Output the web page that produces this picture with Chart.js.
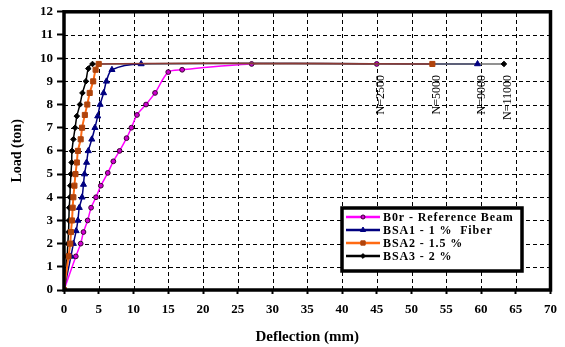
<!DOCTYPE html>
<html lang="en">
<head>
    <meta charset="UTF-8">
    <title>Load - Deflection</title>
    <script src="https://cdn.jsdelivr.net/npm/chart.js"></script>
    <style>
        html, body { margin: 0; padding: 0; background: #fff; }
        .chart-container { width: 565px; height: 347px; }
    </style>
</head>
<body>
    <div class="chart-container">
        <canvas id="myChart"></canvas>
    </div>

    <script>
        // Deflection (mm) / Load (ton)
        const b0rX = [0, 1.7, 2.4, 2.8, 3.4, 3.9, 4.6, 5.3, 6.3, 7.1, 8.0, 9.0, 9.7, 10.5, 11.8, 13.1, 15.0, 17.0, 27.0, 45.0];
        const b0rY = [0, 1.45, 2.0, 2.5, 3.0, 3.55, 4.0, 4.5, 5.05, 5.55, 6.0, 6.55, 7.0, 7.55, 8.0, 8.5, 9.4, 9.5, 9.75, 9.75];

        const bsa1X = [0, 1.0, 1.35, 1.75, 2.0, 2.2, 2.6, 2.8, 2.95, 3.25, 3.5, 4.0, 4.45, 4.85, 5.2, 5.7, 6.1, 6.9, 11.1, 59.5];
        const bsa1Y = [0, 1.45, 2.0, 2.55, 3.0, 3.55, 4.0, 4.55, 5.0, 5.5, 6.0, 6.5, 7.0, 7.5, 8.0, 8.5, 9.0, 9.5, 9.75, 9.75];

        const bsa2X = [0, 0.65, 0.9, 1.0, 1.15, 1.25, 1.35, 1.5, 1.65, 1.85, 2.0, 2.4, 2.6, 3.0, 3.35, 3.7, 4.2, 4.55, 5.0, 53.0];
        const bsa2Y = [0, 1.45, 2.0, 2.5, 3.0, 3.55, 4.0, 4.5, 5.0, 5.5, 6.0, 6.5, 7.0, 7.55, 8.0, 8.5, 9.0, 9.5, 9.75, 9.75];

        const bsa3X = [0, 0.45, 0.55, 0.65, 0.7, 0.75, 0.85, 0.9, 1.0, 1.1, 1.15, 1.35, 1.6, 1.85, 2.3, 2.65, 3.15, 3.5, 4.1, 63.3];
        const bsa3Y = [0, 1.45, 2.0, 2.5, 3.0, 3.55, 4.0, 4.5, 5.0, 5.5, 6.0, 6.5, 7.0, 7.5, 8.0, 8.5, 9.0, 9.55, 9.75, 9.75];

        const seriesLabels = ['B0r - Reference Beam', 'BSA1 - 1 %  Fiber', 'BSA2 - 1.5 %', 'BSA3 - 2 %'];
        // number of cycles written at the end of each curve
        const cycleLabels = ['N=2500', 'N=9000', 'N=5000', 'N=11000'];

        const toPoints = (xs, ys) => xs.map((x, i) => ({ x: x, y: ys[i] }));

        // darker colour for the flat part at the top, where the lines overlap
        const isFlat = ctx => ctx.p0.parsed.y > 9.7 && ctx.p1.parsed.y > 9.7;
        const flatColor = (normal, flat) => ctx => isFlat(ctx) ? flat : normal;

        const serif = 'Liberation Serif, Times New Roman, serif';

        // dashed grid drawn from the scale ticks
        const dashedGrid = {
            id: 'dashedGrid',
            beforeDatasetsDraw(chart) {
                const { ctx, chartArea: a, scales: { x, y } } = chart;
                ctx.save();
                ctx.strokeStyle = '#000';
                ctx.lineWidth = 1;
                ctx.setLineDash([4, 3]);
                x.ticks.forEach(t => {
                    const px = Math.round(x.getPixelForValue(t.value)) + 0.5;
                    ctx.beginPath();
                    ctx.moveTo(px, a.bottom);
                    ctx.lineTo(px, a.top);
                    ctx.stroke();
                });
                y.ticks.forEach(t => {
                    const py = Math.round(y.getPixelForValue(t.value)) + 0.5;
                    ctx.beginPath();
                    ctx.moveTo(a.left, py);
                    ctx.lineTo(a.right, py);
                    ctx.stroke();
                });
                ctx.restore();
            }
        };

        const frameAndLabels = {
            id: 'frameAndLabels',
            afterDatasetsDraw(chart) {
                const { ctx, chartArea: a, scales: { x, y } } = chart;
                ctx.save();
                ctx.setLineDash([]);
                // thick frame round the plot
                ctx.strokeStyle = '#000';
                ctx.lineWidth = 3.5;
                ctx.strokeRect(a.left, a.top, a.right - a.left, a.bottom - a.top);

                // N= labels, vertical, under the end of each curve
                ctx.fillStyle = '#000';
                ctx.font = '12px ' + serif;
                ctx.textAlign = 'right';
                ctx.textBaseline = 'middle';
                chart.data.datasets.forEach((ds, i) => {
                    const last = ds.data[ds.data.length - 1];
                    const px = x.getPixelForValue(last.x) + 4;
                    const py = y.getPixelForValue(last.y) + 11;
                    ctx.save();
                    ctx.translate(px, py);
                    ctx.rotate(-Math.PI / 2);
                    ctx.fillText(cycleLabels[i], 0, 0);
                    ctx.restore();
                });

                // legend box inside the plot
                const bx = 342, by = 208, bw = 180, bh = 63;
                ctx.fillStyle = '#fff';
                ctx.fillRect(bx, by, bw, bh);
                ctx.lineWidth = 3.5;
                ctx.strokeStyle = '#000';
                ctx.strokeRect(bx, by, bw, bh);
                ctx.font = 'bold 12px ' + serif;
                ctx.letterSpacing = '0.9px';
                ctx.textAlign = 'left';
                chart.data.datasets.forEach((ds, i) => {
                    const ly = by + 9 + i * 13;
                    ctx.strokeStyle = ds.borderColor;
                    ctx.lineWidth = 2.5;
                    ctx.beginPath();
                    ctx.moveTo(bx + 4, ly);
                    ctx.lineTo(bx + 38, ly);
                    ctx.stroke();
                    ctx.fillStyle = ds.pointBackgroundColor;
                    ctx.strokeStyle = ds.pointBorderColor;
                    ctx.lineWidth = ds.pointBorderWidth;
                    Chart.helpers.drawPoint(ctx, {
                        pointStyle: ds.pointStyle,
                        radius: ds.pointRadius * 0.85,
                        borderWidth: ds.pointBorderWidth
                    }, bx + 21, ly);
                    ctx.fillStyle = '#000';
                    ctx.fillText(ds.label, bx + 41, ly + 0.5);
                });
                ctx.restore();
            }
        };

        // only the short tick marks come from the axis grid; lines are drawn by dashedGrid
        const gridOpts = (tick) => ({
            drawOnChartArea: false,
            color: '#000',
            tickLength: tick,
            tickColor: '#000',
            tickWidth: 2
        });

        const chartCtx = document.getElementById('myChart').getContext('2d');
        const chart = new Chart(chartCtx, {
            type: 'line',
            data: {
                datasets: [
                    {
                        label: seriesLabels[0],
                        data: toPoints(b0rX, b0rY),
                        borderColor: '#FF00FF',
                        borderWidth: 1.5,
                        pointStyle: 'circle',
                        pointRadius: 2.4,
                        pointBackgroundColor: '#D000D0',
                        pointBorderColor: '#3A0033',
                        pointBorderWidth: 1,
                        segment: { borderColor: flatColor('#FF00FF', '#8B3A3A') },
                        tension: 0.3,
                        order: 3
                    },
                    {
                        label: seriesLabels[1],
                        data: toPoints(bsa1X, bsa1Y),
                        borderColor: '#000080',
                        borderWidth: 1.5,
                        pointStyle: 'triangle',
                        pointRadius: 3.5,
                        pointBackgroundColor: '#000080',
                        pointBorderColor: '#000080',
                        pointBorderWidth: 1,
                        segment: { borderColor: flatColor('#000080', '#4E5272') },
                        tension: 0.3,
                        order: 1
                    },
                    {
                        label: seriesLabels[2],
                        data: toPoints(bsa2X, bsa2Y),
                        borderColor: '#FF6A13',
                        borderWidth: 2,
                        pointStyle: 'rect',
                        pointRadius: 3.6,
                        pointBackgroundColor: '#B0440C',
                        pointBorderColor: '#B0440C',
                        pointBorderWidth: 1,
                        segment: {
                            borderColor: flatColor('#FF6A13', '#8B3A34'),
                            borderWidth: ctx => isFlat(ctx) ? 1.5 : 2
                        },
                        tension: 0.3,
                        order: 0
                    },
                    {
                        label: seriesLabels[3],
                        data: toPoints(bsa3X, bsa3Y),
                        borderColor: '#000000',
                        borderWidth: 1.5,
                        pointStyle: 'rectRot',
                        pointRadius: 2.8,
                        pointBackgroundColor: '#000000',
                        pointBorderColor: '#000000',
                        pointBorderWidth: 1,
                        segment: { borderColor: flatColor('#000000', '#6E6E6E') },
                        tension: 0.3,
                        order: 2
                    }
                ]
            },
            options: {
                responsive: true,
                maintainAspectRatio: false,
                animation: false,
                layout: { padding: { top: 10, right: 7, left: 0, bottom: 0 } },
                scales: {
                    x: {
                        type: 'linear',
                        min: 0,
                        max: 70,
                        afterFit(scale) { scale.height = 57; },
                        ticks: {
                            stepSize: 5,
                            autoSkip: false,
                            maxRotation: 0,
                            padding: 8,
                            color: '#000',
                            font: { family: serif, size: 13, weight: 'bold' }
                        },
                        grid: gridOpts(4),
                        border: { display: false },
                        title: {
                            display: true,
                            text: 'Deflection (mm)',
                            color: '#000',
                            padding: { top: 0, bottom: 1 },
                            font: { family: serif, size: 15, weight: 'bold' }
                        }
                    },
                    y: {
                        type: 'linear',
                        min: 0,
                        max: 12,
                        afterFit(scale) { scale.width = 64; },
                        ticks: {
                            stepSize: 1,
                            padding: 4,
                            color: '#000',
                            font: { family: serif, size: 13, weight: 'bold' }
                        },
                        grid: gridOpts(7),
                        border: { display: false },
                        title: {
                            display: true,
                            text: 'Load (ton)',
                            color: '#000',
                            padding: { top: 9, bottom: 0 },
                            font: { family: serif, size: 14, weight: 'bold' }
                        }
                    }
                },
                plugins: {
                    legend: { display: false },
                    tooltip: { enabled: false }
                }
            },
            plugins: [dashedGrid, frameAndLabels]
        });
    </script>
</body>
</html>
